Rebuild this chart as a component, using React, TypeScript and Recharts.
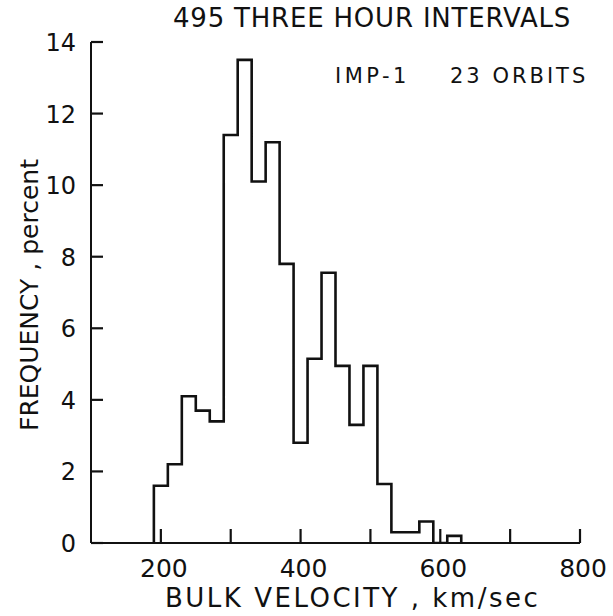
import React from 'react';
import { LineChart, Line, XAxis, YAxis, Customized } from 'recharts';

// Histogram bins (left edges, km/sec) and frequencies (percent)
const binEdges = [190, 210, 230, 250, 270, 290, 310, 330, 350, 370, 390, 410, 430, 450, 470, 490, 510, 530, 550, 570, 590, 610];
const frequencies = [1.6, 2.2, 4.1, 3.7, 3.4, 11.4, 13.5, 10.1, 11.2, 7.8, 2.8, 5.15, 7.55, 4.95, 3.3, 4.95, 1.65, 0.3, 0.3, 0.6, 0, 0.2];
const binWidth = 20;

const xDomain = [100, 800];
const yDomain = [0, 14];
const xTicks = [200, 300, 400, 500, 600, 700, 800];
const xTickLabels = [200, 400, 600, 800];
const yTicks = [0, 2, 4, 6, 8, 10, 12, 14];

const titleText = '495 THREE HOUR INTERVALS';
const subtitleLeft = 'IMP-1';
const subtitleRight = '23 ORBITS';
const xLabelText = 'BULK VELOCITY , km/sec';
const yLabelText = 'FREQUENCY , percent';

const lastEdge = binEdges[binEdges.length - 1] + binWidth;
const data = [
  { x: binEdges[0], y: 0 },
  ...binEdges.map((e, i) => ({ x: e, y: frequencies[i] })),
  { x: lastEdge, y: 0 },
];

const FONT = 'DejaVu Sans, sans-serif';
const INK = '#111';

const XTick = (props: any) => {
  const { x, y, payload } = props;
  const v = payload.value;
  const px = Number(x);
  const py = Number(y);
  return (
    <g>
      <path d={`M${px},${py}V${py - 14}`} stroke={INK} strokeWidth={2.2} fill="none" />
      {xTickLabels.includes(v) && (
        <text x={px + 3} y={py + 34} textAnchor="middle" fontFamily={FONT} fontSize={25} fill={INK}>
          {v}
        </text>
      )}
    </g>
  );
};

const YTick = (props: any) => {
  const { x, y, payload } = props;
  const px = Number(x);
  const py = Number(y);
  return (
    <g>
      <path d={`M${px},${py}H${px + 12}`} stroke={INK} strokeWidth={2.2} fill="none" />
      <text x={px - 15} y={py + 9} textAnchor="end" fontFamily={FONT} fontSize={24} fill={INK}>
        {payload.value}
      </text>
    </g>
  );
};

const Texts = () => (
  <g fontFamily={FONT} fill={INK}>
    <text x={173} y={27} fontSize={26} letterSpacing={0.8}>{titleText}</text>
    <text x={335} y={83} fontSize={21} letterSpacing={3.5}>{subtitleLeft}</text>
    <text x={450} y={83} fontSize={21} letterSpacing={3}>{subtitleRight}</text>
    <text x={165} y={607} fontSize={26} letterSpacing={2.5}>{xLabelText}</text>
    <text x={38} y={295} fontSize={25} textAnchor="middle" transform="rotate(-90, 38, 295)">{yLabelText}</text>
  </g>
);

export default function App() {
  return (
    <div style={{ position: 'absolute', left: 0, top: 0, width: 613, height: 616, background: '#fff' }}>
      <LineChart width={613} height={616} data={data} margin={{ top: 42, right: 33, left: 0, bottom: 0 }}>
        <XAxis
          dataKey="x"
          type="number"
          domain={xDomain}
          ticks={xTicks}
          height={73}
          tickSize={0}
          tickMargin={0}
          tick={XTick}
          axisLine={{ stroke: INK, strokeWidth: 2 }}
          tickLine={false}
          allowDataOverflow
        />
        <YAxis
          type="number"
          domain={yDomain}
          ticks={yTicks}
          width={91}
          tickSize={0}
          tickMargin={0}
          tick={YTick}
          axisLine={{ stroke: INK, strokeWidth: 2 }}
          tickLine={false}
          allowDataOverflow
        />
        <Line
          dataKey="y"
          type="stepAfter"
          stroke={INK}
          strokeWidth={2.6}
          dot={false}
          activeDot={false}
          isAnimationActive={false}
        />
        <Customized component={Texts} />
      </LineChart>
    </div>
  );
}
